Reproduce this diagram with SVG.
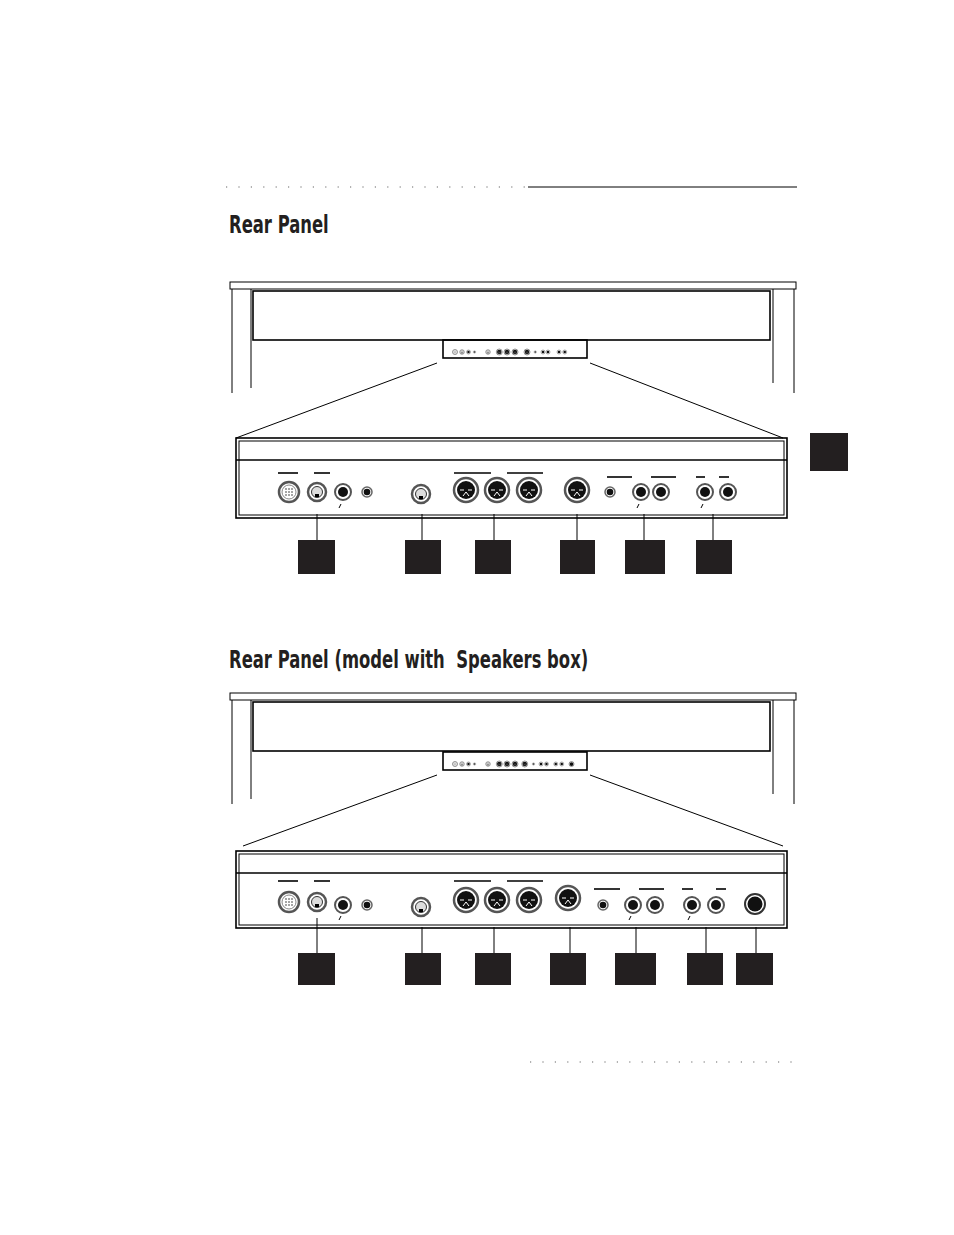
<svg xmlns="http://www.w3.org/2000/svg" xmlns:xlink="http://www.w3.org/1999/xlink" width="954" height="1235" viewBox="0 0 954 1235">
<style>
.l{stroke:#000;fill:none;stroke-width:1}
.t{stroke:#000;fill:none;stroke-width:1.6}
.b{fill:#231f20}
.title{font-family:"DejaVu Sans Condensed","Liberation Sans",sans-serif;font-weight:bold;font-size:25px;fill:#231f20}
.dot{stroke:#999;stroke-width:1.4;stroke-dasharray:1.2 11.2;fill:none}
</style>
<defs>
<g id="multi"><circle r="10" fill="#fff" stroke="#555" stroke-width="2.5"/><circle r="7" fill="none" stroke="#888"/><g fill="#333"><circle cx="-3" cy="-3" r="0.8"/><circle cx="0" cy="-3" r="0.8"/><circle cx="3" cy="-3" r="0.8"/><circle cx="-3" cy="0" r="0.8"/><circle cx="0" cy="0" r="0.8"/><circle cx="3" cy="0" r="0.8"/><circle cx="-3" cy="3" r="0.8"/><circle cx="0" cy="3" r="0.8"/><circle cx="3" cy="3" r="0.8"/></g></g>
<g id="mini"><circle r="9" fill="#fff" stroke="#555" stroke-width="2.5"/><circle r="5.5" fill="#ddd" stroke="#333"/><rect x="-2" y="2" width="4" height="3" fill="#000"/></g>
<g id="din"><circle r="12" fill="#fff" stroke="#555" stroke-width="2.5"/><circle r="9" fill="#111"/><g stroke="#fff" stroke-width="1"><line x1="-6" y1="0" x2="-2" y2="0"/><line x1="6" y1="0" x2="2" y2="0"/><line x1="0" y1="2" x2="-3" y2="6"/><line x1="0" y1="2" x2="3" y2="6"/></g></g>
<g id="jack"><circle r="8" fill="#fff" stroke="#555" stroke-width="2"/><circle r="5" fill="#111"/></g>
<g id="small"><circle r="5" fill="#fff" stroke="#666" stroke-width="1.5"/><circle r="3.3" fill="#111"/></g>
<g id="big"><circle r="10" fill="#fff" stroke="#333" stroke-width="2"/><circle r="7.5" fill="#111"/></g>
</defs>
<line class="dot" x1="226" y1="187" x2="525" y2="187"/>
<line class="l" x1="528" y1="187" x2="797" y2="187"/>
<rect x="810" y="433" width="38" height="38" class="b"/>
<text transform="translate(229,233) scale(0.73,1)" class="title">Rear Panel</text>
<text transform="translate(229,668) scale(0.73,1)" class="title" xml:space="preserve">Rear Panel (model with  Speakers box)</text>
<line class="dot" x1="530" y1="1062" x2="797" y2="1062"/>

<g id="cabinet1">
<rect x="230" y="282" width="566" height="7" class="l"/>
<line class="l" x1="232" y1="289" x2="232" y2="393"/><line class="l" x1="251" y1="289" x2="251" y2="388"/>
<line class="l" x1="773" y1="289" x2="773" y2="383"/><line class="l" x1="794" y1="289" x2="794" y2="393"/>
<rect x="253" y="291" width="517" height="49" class="t"/>
<rect x="443" y="340" width="144" height="18" class="t"/>
<g transform="translate(455,352) scale(0.25)"><use href="#multi"/><use href="#mini" x="28"/><use href="#jack" x="54"/><use href="#small" x="78"/><use href="#mini" x="132"/><use href="#din" x="177"/><use href="#din" x="208"/><use href="#din" x="240"/><use href="#din" x="288"/><use href="#small" x="321"/><use href="#jack" x="352"/><use href="#jack" x="372"/><use href="#jack" x="416"/><use href="#jack" x="439"/></g>
</g>
<g id="panel1">
<rect x="236" y="438" width="551" height="80" class="t"/>
<rect x="239" y="441" width="545" height="74" class="l"/>
<line class="t" x1="236" y1="460" x2="787" y2="460"/>
<g class="t"><line x1="278" y1="473" x2="298" y2="473"/><line x1="314" y1="473" x2="330" y2="473"/><line x1="454" y1="473" x2="491" y2="473"/><line x1="507" y1="473" x2="543" y2="473"/><line x1="607" y1="477" x2="632" y2="477"/><line x1="651" y1="477" x2="676" y2="477"/><line x1="696" y1="477" x2="705" y2="477"/><line x1="719" y1="477" x2="729" y2="477"/></g>
<use href="#multi" x="289" y="492"/><use href="#mini" x="317" y="492"/><use href="#jack" x="343" y="492"/><use href="#small" x="367" y="492"/><use href="#mini" x="421" y="494"/><use href="#din" x="466" y="490"/><use href="#din" x="497" y="490"/><use href="#din" x="529" y="490"/><use href="#din" x="577" y="490"/><use href="#small" x="610" y="492"/><use href="#jack" x="641" y="492"/><use href="#jack" x="661" y="492"/><use href="#jack" x="705" y="492"/><use href="#jack" x="728" y="492"/>
<g class="l"><line x1="339" y1="508" x2="341" y2="504"/><line x1="637" y1="508" x2="639" y2="504"/><line x1="701" y1="508" x2="703" y2="504"/></g>
</g>
<g id="connectors1" class="l">
<line x1="437" y1="363" x2="236" y2="438"/><line x1="590" y1="363" x2="783" y2="438"/>
<line x1="317" y1="514" x2="317" y2="540"/><line x1="422" y1="514" x2="422" y2="540"/><line x1="494" y1="514" x2="494" y2="540"/><line x1="577" y1="514" x2="577" y2="540"/><line x1="644" y1="514" x2="644" y2="540"/><line x1="713" y1="514" x2="713" y2="540"/>
</g>
<g id="boxes1" class="b"><rect x="298" y="540" width="37" height="34"/><rect x="405" y="540" width="36" height="34"/><rect x="475" y="540" width="36" height="34"/><rect x="560" y="540" width="35" height="34"/><rect x="625" y="540" width="40" height="34"/><rect x="696" y="540" width="36" height="34"/></g>

<g id="cabinet2">
<rect x="230" y="693" width="566" height="7" class="l"/>
<line class="l" x1="232" y1="700" x2="232" y2="804"/><line class="l" x1="251" y1="700" x2="251" y2="799"/>
<line class="l" x1="773" y1="700" x2="773" y2="794"/><line class="l" x1="794" y1="700" x2="794" y2="804"/>
<rect x="253" y="702" width="517" height="49" class="t"/>
<rect x="443" y="752" width="144" height="18" class="t"/>
<g transform="translate(455,764) scale(0.25)"><use href="#multi"/><use href="#mini" x="28"/><use href="#jack" x="54"/><use href="#small" x="78"/><use href="#mini" x="132"/><use href="#din" x="177"/><use href="#din" x="208"/><use href="#din" x="240"/><use href="#din" x="279"/><use href="#small" x="314"/><use href="#jack" x="344"/><use href="#jack" x="366"/><use href="#jack" x="403"/><use href="#jack" x="427"/><use href="#big" x="466"/></g>
</g>
<g id="panel2">
<rect x="236" y="851" width="551" height="77" class="t"/>
<rect x="239" y="854" width="545" height="71" class="l"/>
<line class="t" x1="236" y1="873" x2="787" y2="873"/>
<g class="t"><line x1="278" y1="881" x2="298" y2="881"/><line x1="314" y1="881" x2="330" y2="881"/><line x1="454" y1="881" x2="491" y2="881"/><line x1="507" y1="881" x2="543" y2="881"/><line x1="594" y1="889" x2="620" y2="889"/><line x1="639" y1="889" x2="664" y2="889"/><line x1="682" y1="889" x2="693" y2="889"/><line x1="716" y1="889" x2="726" y2="889"/></g>
<use href="#multi" x="289" y="902"/><use href="#mini" x="317" y="902"/><use href="#jack" x="343" y="905"/><use href="#small" x="367" y="905"/><use href="#mini" x="421" y="907"/><use href="#din" x="466" y="900"/><use href="#din" x="497" y="900"/><use href="#din" x="529" y="900"/><use href="#din" x="568" y="898"/><use href="#small" x="603" y="905"/><use href="#jack" x="633" y="905"/><use href="#jack" x="655" y="905"/><use href="#jack" x="692" y="905"/><use href="#jack" x="716" y="905"/><use href="#big" x="755" y="904"/>
<g class="l"><line x1="339" y1="920" x2="341" y2="916"/><line x1="629" y1="920" x2="631" y2="916"/><line x1="688" y1="920" x2="690" y2="916"/></g>
</g>
<g id="connectors2" class="l">
<line x1="437" y1="775" x2="243" y2="846"/><line x1="590" y1="775" x2="783" y2="846"/>
<line x1="317" y1="918" x2="317" y2="953"/><line x1="422" y1="927" x2="422" y2="953"/><line x1="494" y1="927" x2="494" y2="953"/><line x1="570" y1="927" x2="570" y2="953"/><line x1="636" y1="927" x2="636" y2="953"/><line x1="706" y1="927" x2="706" y2="953"/><line x1="756" y1="927" x2="756" y2="953"/>
</g>
<g id="boxes2" class="b"><rect x="298" y="953" width="37" height="32"/><rect x="405" y="953" width="36" height="32"/><rect x="475" y="953" width="36" height="32"/><rect x="550" y="953" width="36" height="32"/><rect x="615" y="953" width="41" height="32"/><rect x="687" y="953" width="36" height="32"/><rect x="736" y="953" width="37" height="32"/></g>
</svg>
